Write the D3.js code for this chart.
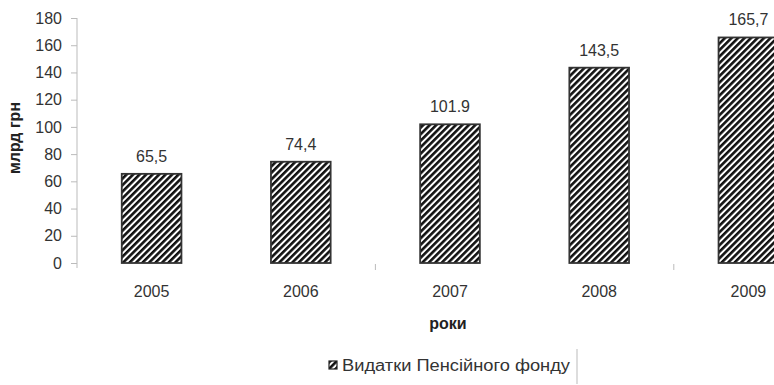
<!DOCTYPE html>
<html>
<head>
<meta charset="utf-8">
<script src="https://cdn.jsdelivr.net/npm/d3@7"></script>
<style>
  html, body { margin: 0; padding: 0; background: #fff; }
  svg { display: block; font-family: "Liberation Sans", Arial, sans-serif; }
</style>
</head>
<body>
<svg id="chart" width="774" height="385"></svg>
<script>
// Pension Fund expenditures, bn UAH
const years = ["2005", "2006", "2007", "2008", "2009"];
const expenditures = [65.5, 74.4, 101.9, 143.5, 165.7];
const valueLabels = ["65,5", "74,4", "101.9", "143,5", "165,7"];
const yTicks = [0, 20, 40, 60, 80, 100, 120, 140, 160, 180];
const seriesName = "Видатки Пенсійного фонду";
const yTitle = "млрд грн";
const xTitle = "роки";

const svg = d3.select("#chart");
const textColor = "#333";
const axisColor = "#bbb";
const fontSize = 16;

// hatch fill for the bars
const defs = svg.append("defs");
const pat = defs.append("pattern")
  .attr("id", "hatch")
  .attr("patternUnits", "userSpaceOnUse")
  .attr("width", 4.6).attr("height", 4.6)
  .attr("patternTransform", "rotate(45)");
pat.append("rect").attr("width", 4.6).attr("height", 4.6).attr("fill", "#fff");
pat.append("rect").attr("width", 2.6).attr("height", 4.6).attr("fill", "#111");

const x = d3.scaleBand()
  .domain(years)
  .range([77, 77 + 5 * 149.2])
  .paddingInner(0.6)
  .paddingOuter(0.3);

const y = d3.scaleLinear().domain([0, 180]).range([263, 18]);

// y axis
const yAxis = svg.append("g").attr("transform", "translate(77,0)")
  .call(d3.axisLeft(y).tickValues(yTicks).tickSize(6).tickPadding(9).tickFormat(d3.format("d")));
yAxis.select(".domain").attr("stroke", axisColor).attr("d", "M0,18V268");
yAxis.selectAll(".tick line").attr("stroke", axisColor);
yAxis.selectAll(".tick text")
  .attr("fill", textColor).attr("font-size", fontSize)
  .attr("font-family", "Liberation Sans, Arial, sans-serif");

// category boundary ticks
const step = x.step();
const boundaries = [years[2], years[4]];
svg.append("g").selectAll("line").data(boundaries).join("line")
  .attr("x1", d => x(d) - step * x.paddingInner() / 2)
  .attr("x2", d => x(d) - step * x.paddingInner() / 2)
  .attr("y1", 264).attr("y2", 270)
  .attr("stroke", axisColor);

// bars
svg.append("g").selectAll("rect").data(expenditures).join("rect")
  .attr("x", (d, i) => x(years[i]))
  .attr("y", d => y(d))
  .attr("width", x.bandwidth())
  .attr("height", d => y(0) - y(d))
  .attr("fill", "url(#hatch)")
  .attr("stroke", "#333")
  .attr("stroke-width", 1.8);

// value labels
svg.append("g").selectAll("text").data(expenditures).join("text")
  .attr("x", (d, i) => x(years[i]) + x.bandwidth() / 2)
  .attr("y", d => y(d) - 12)
  .attr("text-anchor", "middle")
  .attr("font-size", fontSize)
  .attr("fill", textColor)
  .text((d, i) => valueLabels[i]);

// category labels
svg.append("g").selectAll("text").data(years).join("text")
  .attr("x", d => x(d) + x.bandwidth() / 2)
  .attr("y", 297)
  .attr("text-anchor", "middle")
  .attr("font-size", fontSize)
  .attr("fill", textColor)
  .text(d => d);

// axis titles
svg.append("text")
  .attr("x", 448).attr("y", 329)
  .attr("text-anchor", "middle")
  .attr("font-size", fontSize).attr("font-weight", "bold")
  .attr("fill", "#222")
  .text(xTitle);

svg.append("text")
  .attr("transform", "translate(20,138) rotate(-90)")
  .attr("text-anchor", "middle")
  .attr("font-size", fontSize).attr("font-weight", "bold")
  .attr("fill", "#222")
  .text(yTitle);

// legend
const lg = svg.append("g");
lg.append("rect")
  .attr("x", 329).attr("y", 361).attr("width", 8).attr("height", 8)
  .attr("fill", "url(#hatch)").attr("stroke", "#222").attr("stroke-width", 1.2);
lg.append("text")
  .attr("x", 342).attr("y", 371)
  .attr("font-size", 16).attr("fill", textColor)
  .attr("textLength", 228).attr("lengthAdjust", "spacingAndGlyphs")
  .text(seriesName);
lg.append("line")
  .attr("x1", 577).attr("x2", 577).attr("y1", 349).attr("y2", 384)
  .attr("stroke", axisColor);
</script>
</body>
</html>
